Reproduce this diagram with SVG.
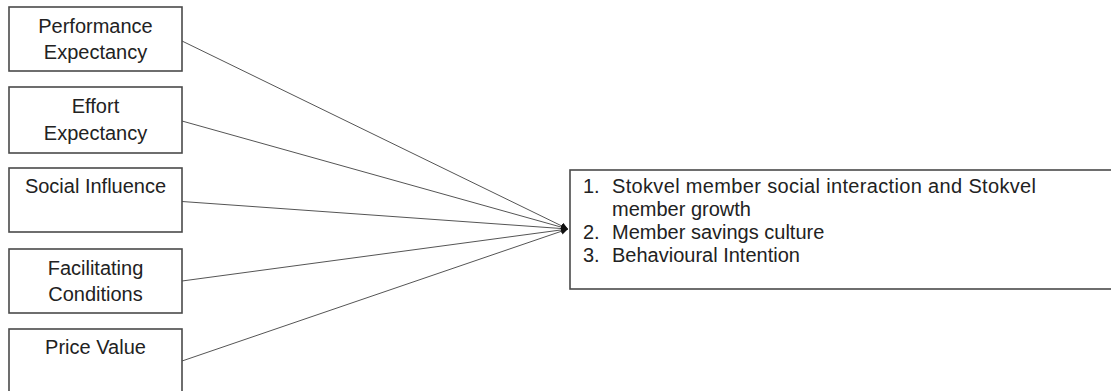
<svg xmlns="http://www.w3.org/2000/svg" width="1111" height="391" viewBox="0 0 1111 391">
<style>
.box{fill:#fff;stroke:#4a4a4a;stroke-width:1.6}
.t{font-family:"Liberation Sans",Arial,sans-serif;font-size:20px;fill:#222}
.c{text-anchor:middle}
.ln{stroke:#555;stroke-width:1;fill:none}
</style>
<defs>
<marker id="ah" viewBox="0 0 10 10" refX="10" refY="5" markerWidth="7" markerHeight="7" markerUnits="userSpaceOnUse" orient="auto">
<path d="M0,0 L10,5 L0,10 z" fill="#111"/>
</marker>
</defs>
<rect width="1111" height="391" fill="#fff"/>
<g id="connectors">
<line class="ln" x1="182" y1="41" x2="568" y2="229" marker-end="url(#ah)"/>
<line class="ln" x1="182" y1="121" x2="568" y2="229" marker-end="url(#ah)"/>
<line class="ln" x1="182" y1="201.5" x2="568" y2="229" marker-end="url(#ah)"/>
<line class="ln" x1="182" y1="281" x2="568" y2="229" marker-end="url(#ah)"/>
<line class="ln" x1="182" y1="361" x2="568" y2="229" marker-end="url(#ah)"/>
</g>
<g id="performance-expectancy">
<rect class="box" x="9" y="7" width="173" height="64"/>
<text class="t c" x="95.5" y="33">Performance</text>
<text class="t c" x="95.5" y="59">Expectancy</text>
</g>
<g id="effort-expectancy">
<rect class="box" x="9" y="87" width="173" height="66"/>
<text class="t c" x="95.5" y="113">Effort</text>
<text class="t c" x="95.5" y="140">Expectancy</text>
</g>
<g id="social-influence">
<rect class="box" x="9" y="168" width="173" height="64"/>
<text class="t c" x="95.5" y="193">Social Influence</text>
</g>
<g id="facilitating-conditions">
<rect class="box" x="9" y="249" width="173" height="64"/>
<text class="t c" x="95.5" y="275">Facilitating</text>
<text class="t c" x="95.5" y="301">Conditions</text>
</g>
<g id="price-value">
<rect class="box" x="9" y="329" width="173" height="70"/>
<text class="t c" x="95.5" y="354">Price Value</text>
</g>
<g id="outcomes">
<rect class="box" x="570" y="170" width="560" height="119"/>
<text class="t" x="583" y="193">1.</text>
<text class="t" x="612" y="193" textLength="424" lengthAdjust="spacing">Stokvel member social interaction and Stokvel</text>
<text class="t" x="612" y="216">member growth</text>
<text class="t" x="583" y="239">2.</text>
<text class="t" x="612" y="239">Member savings culture</text>
<text class="t" x="583" y="262">3.</text>
<text class="t" x="612" y="262">Behavioural Intention</text>
</g>
</svg>
